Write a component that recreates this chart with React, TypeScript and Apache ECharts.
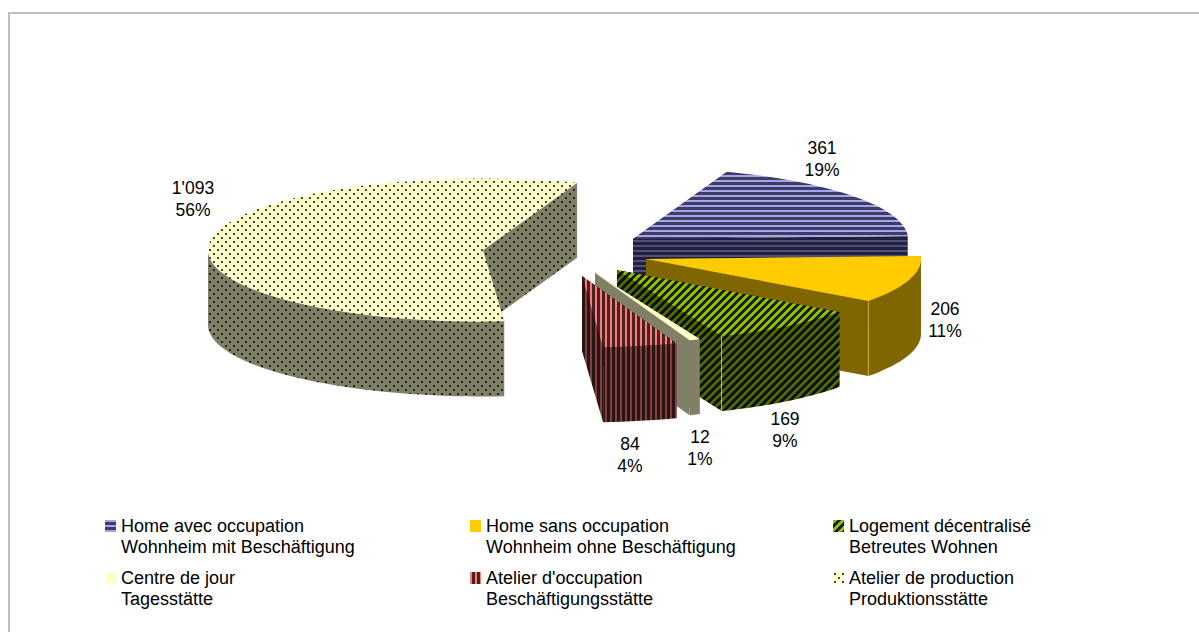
import React, { useEffect, useRef } from "react";
import * as echarts from "echarts";

// ---- data ----
const legendNames = [
  "Home avec occupation\nWohnheim mit Beschäftigung",
  "Home sans occupation\nWohnheim ohne Beschäftigung",
  "Logement décentralisé\nBetreutes Wohnen",
  "Centre de jour\nTagesstätte",
  "Atelier d'occupation\nBeschäftigungsstätte",
  "Atelier de production\nProduktionsstätte",
];
const values = [361, 206, 169, 12, 84, 1093];
const percents = [19, 11, 9, 1, 4, 56];

// ---- layout (pie projection) ----
const START_CLOCK = 20;
const CX = 545;
const CY = 250;
const RX = 275;
const RY = 71.5;
const DEPTH = 75;
const FONT = "Liberation Sans";
const FONT_SIZE = 17.5;
const LEGEND_FONT_SIZE = 18;
const explodeX = [88, 101, 72, 50, 37, -62];
const explodeY = [-11, 9, 20, 23, 26, 0];
const labelX = [822, 945, 785, 700, 630, 193];
const labelY = [159, 320, 430, 448, 455, 199];
const legendX = [105, 470, 833, 105, 470, 833];
const legendY = [494.5, 494.5, 494.5, 546.5, 546.5, 546.5];

type Pat = any;

function tile(w: number, h: number, paint: (x: number, y: number) => string): Pat {
  const c = document.createElement("canvas");
  c.width = w;
  c.height = h;
  const g = c.getContext("2d")!;
  for (let y = 0; y < h; y++) {
    for (let x = 0; x < w; x++) {
      g.fillStyle = paint(x, y);
      g.fillRect(x, y, 1, 1);
    }
  }
  return { image: c, repeat: "repeat", imageWidth: w, imageHeight: h };
}

const hStripes = (a: string, b: string) => tile(5, 5, (_x, y) => (y < 2 ? a : b));
const vStripes = (a: string, b: string) => tile(5, 5, (x) => (x < 2 ? a : b));
const diag = (a: string, b: string) => tile(8, 8, (x, y) => ((x + y) % 8 < 4 ? a : b));
const dots = (a: string, b: string) =>
  tile(8, 8, (x, y) =>
    (x >= 1 && x <= 2 && y >= 1 && y <= 2) || (x >= 5 && x <= 6 && y >= 5 && y <= 6) ? b : a
  );

export default function App() {
  const ref = useRef<HTMLDivElement>(null);

  useEffect(() => {
    const chart = echarts.init(ref.current!, undefined, { renderer: "svg" });

    const tops: Pat[] = [
      hStripes("#A3A3F2", "#3E3E60"),
      "#FFCC00",
      diag("#8FBF00", "#1A2200"),
      "#FFFFCC",
      vStripes("#F87C7C", "#4A2222"),
      dots("#FFFFCC", "#45453A"),
    ];
    const walls: Pat[] = [
      hStripes("#50507E", "#20203A"),
      "#806600",
      diag("#4D6600", "#0C1000"),
      "#808066",
      vStripes("#804040", "#2A1414"),
      dots("#808066", "#22221C"),
    ];
    const cornerEdge: (string | null)[] = [null, "#C9AE4A", "#B7C46A", null, null, null];

    const total = values.reduce((a, b) => a + b, 0);
    const starts: number[] = [];
    values.reduce((acc, v, i) => {
      starts[i] = acc;
      return acc + (v / total) * 360;
    }, START_CLOCK);

    const makeRender = (i: number) => (_params: any, api: any) => {
      const value = api.value(0);
      const a0 = starts[i];
      const a1 = a0 + (value / total) * 360;
      const ax = CX + explodeX[i];
      const ay = CY + explodeY[i];
      const pt = (deg: number, drop = 0) => {
        const r = (deg * Math.PI) / 180;
        return [ax + RX * Math.sin(r), ay - RY * Math.cos(r) + drop];
      };
      const arc = (from: number, to: number, drop = 0) => {
        const out: number[][] = [];
        const n = Math.max(2, Math.ceil((to - from) / 2));
        for (let k = 0; k <= n; k++) out.push(pt(from + ((to - from) * k) / n, drop));
        return out;
      };
      const children: any[] = [];
      const wall = (deg: number) => {
        const p = pt(deg);
        children.push({
          type: "polygon",
          shape: { points: [[ax, ay], p, [p[0], p[1] + DEPTH], [ax, ay + DEPTH]] },
          style: { fill: walls[i] },
        });
      };
      wall(a0);
      wall(a1);
      const f0 = Math.max(a0, 90);
      const f1 = Math.min(a1, 270);
      if (f1 > f0) {
        children.push({
          type: "polygon",
          shape: { points: [...arc(f0, f1), ...arc(f0, f1, DEPTH).reverse()] },
          style: { fill: walls[i] },
        });
      }
      if (cornerEdge[i]) {
        const p = pt(a1);
        children.push({
          type: "line",
          shape: { x1: p[0], y1: p[1], x2: p[0], y2: p[1] + DEPTH },
          style: { stroke: cornerEdge[i], lineWidth: 1 },
        });
      }
      children.push({
        type: "polygon",
        shape: { points: [[ax, ay], ...arc(a0, a1)] },
        style: { fill: tops[i] },
      });
      const shown = value >= 1000
        ? `${Math.floor(value / 1000)}'${String(value % 1000).padStart(3, "0")}`
        : String(value);
      children.push({
        type: "text",
        x: labelX[i],
        y: labelY[i],
        style: {
          text: `${shown}\n${percents[i]}%`,
          fill: "#000000",
          font: `${FONT_SIZE}px "${FONT}"`,
          lineHeight: 22,
          align: "center",
          verticalAlign: "middle",
        },
      });
      return { type: "group", children };
    };

    chart.setOption({
      animation: false,
      backgroundColor: "#ffffff",
      tooltip: { show: false },
      graphic: [
        { type: "rect", shape: { x: 8, y: 12, width: 1191, height: 2 }, style: { fill: "#BFBFBF" } },
        { type: "rect", shape: { x: 8, y: 12, width: 2, height: 620 }, style: { fill: "#BFBFBF" } },
      ],
      legend: legendNames.map((name, i) => ({
        left: legendX[i],
        top: legendY[i],
        padding: 0,
        itemGap: 0,
        itemWidth: 11,
        itemHeight: 12,
        selectedMode: false,
        // the blank first line puts the swatch level with the first line of the name
        formatter: (n: string) => `\n${n}`,
        textStyle: {
          fontFamily: FONT,
          fontSize: LEGEND_FONT_SIZE,
          color: "#000000",
          lineHeight: 21,
        },
        data: [{ name, icon: "rect", itemStyle: { color: tops[i], borderWidth: 0 } }],
      })),
      series: legendNames.map((name, i) => ({
        type: "custom",
        name,
        coordinateSystem: "none",
        silent: true,
        itemStyle: { color: typeof tops[i] === "string" ? tops[i] : "#999999" },
        renderItem: makeRender(i),
        data: [[values[i]]],
      })),
    });

    return () => chart.dispose();
  }, []);

  return (
    <div
      ref={ref}
      style={{ position: "absolute", left: 0, top: 0, width: 1199, height: 632 }}
    />
  );
}
